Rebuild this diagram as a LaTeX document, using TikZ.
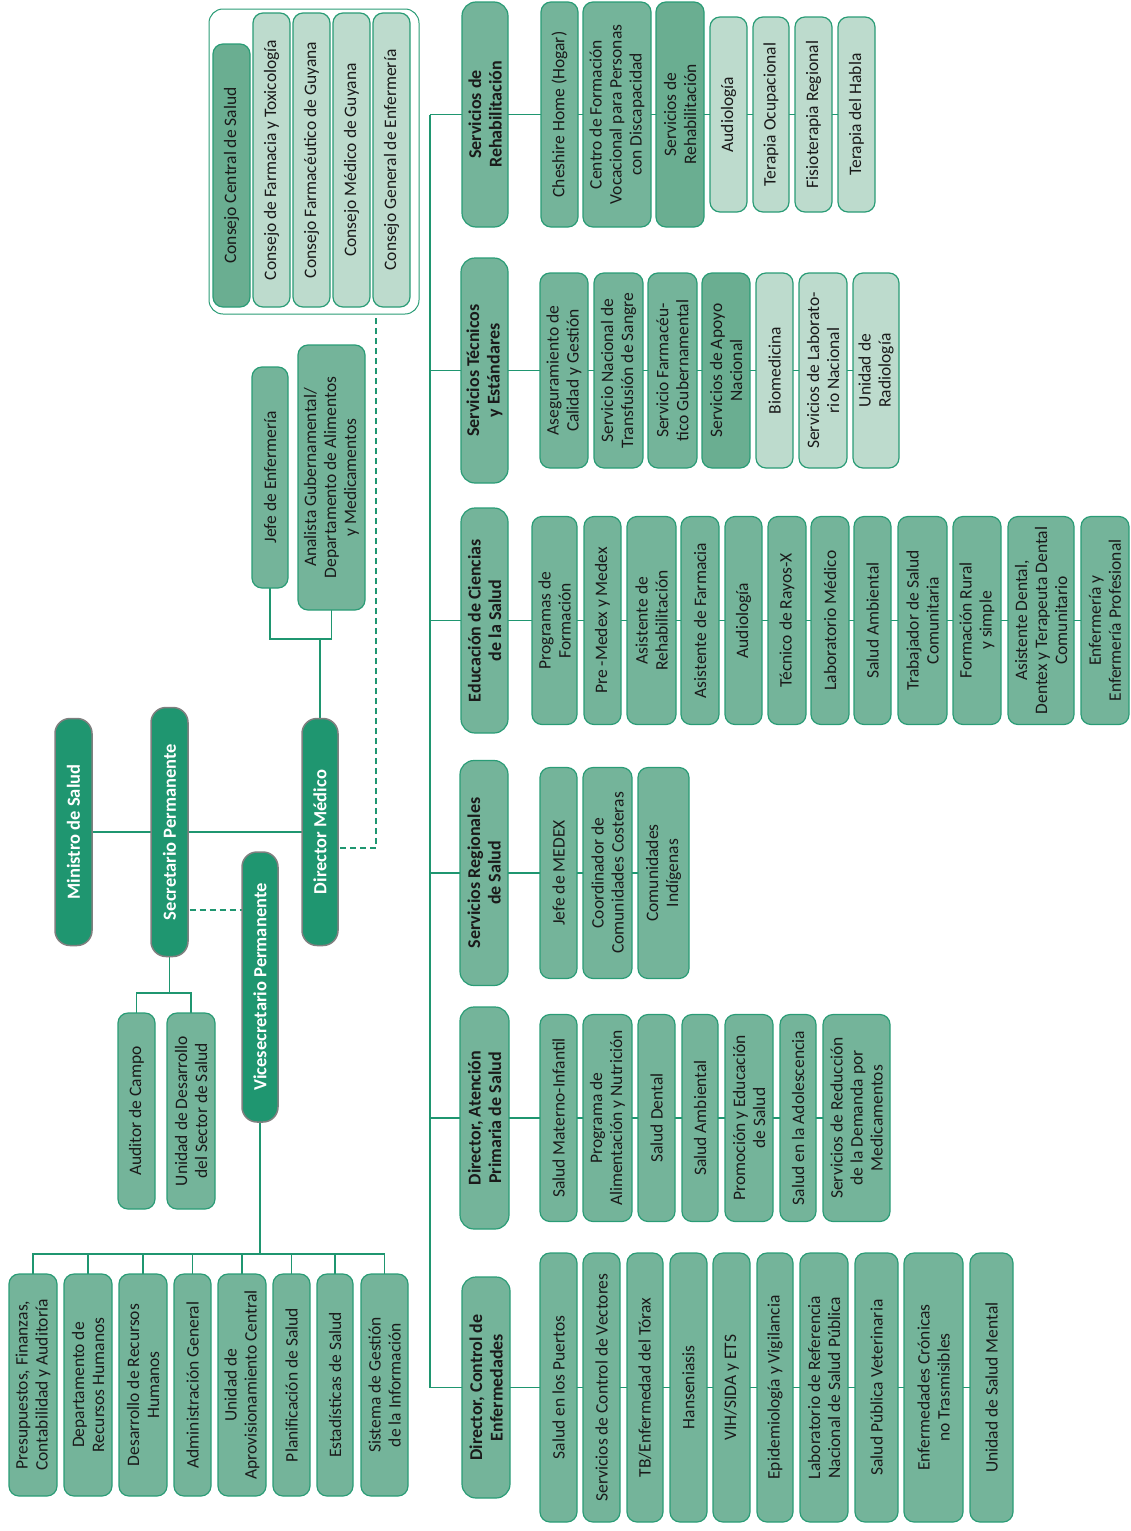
\documentclass[tikz,border=0pt]{standalone}
\usepackage{fontspec}
\setmainfont{Carlito}
\usepackage{tikz}
\usetikzlibrary{backgrounds}
\definecolor{topgreen}{HTML}{1F9670}
\definecolor{topgrey}{HTML}{7F7F7F}
\definecolor{midgreen}{HTML}{74B49A}
\definecolor{deepgreen}{HTML}{6AAE91}
\definecolor{palegreen}{HTML}{BDDBCD}
\definecolor{edgegreen}{HTML}{2A9C76}
\definecolor{linkgreen}{HTML}{1F9670}
\definecolor{inkgrey}{HTML}{1A1A1A}
\tikzset{
  orgbox/.style={rectangle, rotate=90, align=center, inner sep=1pt,
                 rounded corners=10pt, draw=edgegreen, line width=1.2pt,
                 fill=midgreen, text=inkgrey,
                 font=\fontsize{17.5}{20}\selectfont},
  topbox/.style={orgbox, rounded corners=15pt, draw=topgrey, line width=1.5pt,
                 fill=topgreen, text=white,
                 font=\fontsize{18.5}{21}\selectfont\bfseries},
  headbox/.style={orgbox, rounded corners=14pt,
                  font=\fontsize{18}{20.5}\selectfont\bfseries},
  deepunit/.style={orgbox, fill=deepgreen},
  paleunit/.style={orgbox, fill=palegreen},
  link/.style={draw=linkgreen, line width=1.8pt},
  dashlink/.style={link, dash pattern=on 6pt off 4pt},
  wh/.style 2 args={minimum height=#1pt, minimum width=#2pt},
}

\begin{document}
\begin{tikzpicture}[
    x=1pt,
    y=-1pt,
    frame/.style={rectangle, rounded corners=14pt, draw=edgegreen, line width=1pt, fill=white},
  ]
    \useasboundingbox (0,0) rectangle (1130,1531);

    % Top management (dark green)
    \node[topbox, wh={37}{227}] (min) at (73.5,832) {Ministro de Salud};
    \node[topbox, wh={37}{249}] (sec) at (169.5,832) {Secretario Permanente};
    \node[topbox, wh={36}{227}] (dir) at (320,832) {Director Médico};
    \node[topbox, wh={36}{270}] (vice) at (260,987) {Vicesecretario Permanente};

    % Units under the Permanent Secretary
    \node[orgbox, wh={37}{196}] (aud) at (136.5,1111) {Auditor de Campo};
    \node[orgbox, wh={48}{196}] (udes) at (191,1111) {Unidad de Desarrollo\\del Sector de Salud};

    % Units under the Deputy Permanent Secretary
    \node[orgbox, wh={48}{222}] (p1) at (33,1385) {Presupuestos, Finanzas,\\Contabilidad y Auditoría};
    \node[orgbox, wh={48}{222}] (p2) at (88,1385) {Departamento de\\Recursos Humanos};
    \node[orgbox, wh={48}{222}] (p3) at (143,1385) {Desarrollo de Recursos\\Humanos};
    \node[orgbox, wh={37}{222}] (p4) at (192.5,1385) {Administración General};
    \node[orgbox, wh={48}{222}] (p5) at (242,1385) {Unidad de\\Aprovisionamiento Central};
    \node[orgbox, wh={37}{222}] (p6) at (291.5,1385) {Planificación de Salud};
    \node[orgbox, wh={36}{222}] (p7) at (335,1385) {Estadísticas de Salud};
    \node[orgbox, wh={47}{222}] (p8) at (384.5,1385) {Sistema de Gestión\\de la Información};

    % Units above the Medical Director
    \node[orgbox, wh={36}{221}] (jefe) at (270,477.5) {Jefe de Enfermería};
    \node[orgbox, wh={67}{265}] (anal) at (331.5,477.5) {Analista Gubernamental/\\Departamento de Alimentos\\y Medicamentos};

    % Councils
    \node[frame, minimum width=210pt, minimum height=305pt] (cons) at (314,161.5) {};
    \node[deepunit, wh={37}{263}] (k1) at (231.5,175.5) {Consejo Central de Salud};
    \node[paleunit, wh={37}{294}] (k2) at (271.5,160) {Consejo de Farmacia y Toxicología};
    \node[paleunit, wh={37}{294}] (k3) at (311.5,160) {Consejo Farmacéutico de Guyana};
    \node[paleunit, wh={37}{294}] (k4) at (351.5,160) {Consejo Médico de Guyana};
    \node[paleunit, wh={37}{294}] (k5) at (391.5,160) {Consejo General de Enfermería};

    % Row 1: rehabilitation services
    \node[headbox, wh={46}{225}] (rehab) at (485,114.5) {Servicios de\\Rehabilitación};
    \node[orgbox, wh={37}{225}] (r1) at (559.5,114.5) {Cheshire Home (Hogar)};
    \node[orgbox, wh={68}{225}] (r2) at (617,114.5) {Centro de Formación\\Vocacional para Personas\\con Discapacidad};
    \node[deepunit, wh={48}{225}] (r3) at (680,114.5) {Servicios de\\Rehabilitación};
    \node[paleunit, wh={37}{195}] (r4) at (728.5,114.5) {Audiología};
    \node[paleunit, wh={36}{195}] (r5) at (771,114.5) {Terapia Ocupacional};
    \node[paleunit, wh={37}{195}] (r6) at (813.5,114.5) {Fisioterapia Regional};
    \node[paleunit, wh={37}{195}] (r7) at (856.5,114.5) {Terapia del Habla};

    % Row 2: technical services and standards
    \node[headbox, wh={47}{225}] (tec) at (484.5,370.5) {Servicios Técnicos\\y Estándares};
    \node[orgbox, wh={48}{195}] (t1) at (564,370.5) {Aseguramiento de\\Calidad y Gestión};
    \node[orgbox, wh={49}{195}] (t2) at (618.5,370.5) {Servicio Nacional de\\Transfusión de Sangre};
    \node[orgbox, wh={49}{195}] (t3) at (672.5,370.5) {Servicio Farmacéu-\\tico Gubernamental};
    \node[deepunit, wh={48}{195}] (t4) at (726,370.5) {Servicios de Apoyo\\Nacional};
    \node[paleunit, wh={37}{195}] (t5) at (774.5,370.5) {Biomedicina};
    \node[paleunit, wh={48}{195}] (t6) at (823,370.5) {Servicios de Laborato-\\rio Nacional};
    \node[paleunit, wh={46}{195}] (t7) at (876,370.5) {Unidad de\\Radiología};

    % Row 3: health sciences education
    \node[headbox, wh={47}{225}] (edu) at (484.5,620.5) {Educación de Ciencias\\de la Salud};
    \node[orgbox, wh={45}{208}] (e1) at (554.5,620.5) {Programas de\\Formación};
    \node[orgbox, wh={37}{208}] (e2) at (602.5,620.5) {Pre -Medex y Medex};
    \node[orgbox, wh={49}{208}] (e3) at (651.5,620.5) {Asistente de\\Rehabilitación};
    \node[orgbox, wh={38}{208}] (e4) at (700,620.5) {Asistente de Farmacia};
    \node[orgbox, wh={37}{208}] (e5) at (743.5,620.5) {Audiología};
    \node[orgbox, wh={38}{208}] (e6) at (787,620.5) {Técnico de Rayos-X};
    \node[orgbox, wh={38}{208}] (e7) at (830,620.5) {Laboratorio Médico};
    \node[orgbox, wh={37}{208}] (e8) at (872.5,620.5) {Salud Ambiental};
    \node[orgbox, wh={49}{208}] (e9) at (922.5,620.5) {Trabajador de Salud\\Comunitaria};
    \node[orgbox, wh={48}{208}] (e10) at (977,620.5) {Formación Rural\\y simple};
    \node[orgbox, wh={66}{208}] (e11) at (1041,620.5) {Asistente Dental,\\Dentex y Terapeuta Dental\\Comunitario};
    \node[orgbox, wh={48}{208}] (e12) at (1105,620.5) {Enfermería y\\Enfermería Profesional};

    % Row 4: regional health services
    \node[headbox, wh={48}{225}] (reg) at (484,873) {Servicios Regionales\\de Salud};
    \node[orgbox, wh={37}{211}] (g1) at (558.5,873) {Jefe de MEDEX};
    \node[orgbox, wh={49}{211}] (g2) at (607.5,873) {Coordinador de\\Comunidades Costeras};
    \node[orgbox, wh={51}{211}] (g3) at (663.5,873) {Comunidades\\Indígenas};

    % Row 5: primary health care
    \node[headbox, wh={49}{222}] (aps) at (484.5,1118) {Director, Atención\\Primaria de Salud};
    \node[orgbox, wh={37}{207}] (a1) at (558.5,1118) {Salud Materno-Infantil};
    \node[orgbox, wh={49}{207}] (a2) at (607.5,1118) {Programa de\\Alimentación y Nutrición};
    \node[orgbox, wh={37}{207}] (a3) at (656.5,1118) {Salud Dental};
    \node[orgbox, wh={36}{207}] (a4) at (700,1118) {Salud Ambiental};
    \node[orgbox, wh={48}{207}] (a5) at (749,1118) {Promoción y Educación\\de Salud};
    \node[orgbox, wh={36}{207}] (a6) at (798,1118) {Salud en la Adolescencia};
    \node[orgbox, wh={67}{207}] (a7) at (856.5,1118) {Servicios de Reducción\\de la Demanda por\\Medicamentos};

    % Row 6: disease control
    \node[headbox, wh={48}{221}] (ctrl) at (486,1387.5) {Director, Control de\\Enfermedades};
    \node[orgbox, wh={37}{269}] (c1) at (558.5,1387.5) {Salud en los Puertos};
    \node[orgbox, wh={37}{269}] (c2) at (601.5,1387.5) {Servicios de Control de Vectores};
    \node[orgbox, wh={36}{269}] (c3) at (645,1387.5) {TB/Enfermedad del Tórax};
    \node[orgbox, wh={37}{269}] (c4) at (688.5,1387.5) {Hanseniasis};
    \node[orgbox, wh={37}{269}] (c5) at (731.5,1387.5) {VIH/SIDA y ETS};
    \node[orgbox, wh={36}{269}] (c6) at (775,1387.5) {Epidemiología y Vigilancia};
    \node[orgbox, wh={48}{269}] (c7) at (824,1387.5) {Laboratorio de Referencia\\Nacional de Salud Pública};
    \node[orgbox, wh={43}{269}] (c8) at (876.5,1387.5) {Salud Pública Veterinaria};
    \node[orgbox, wh={59}{269}] (c9) at (933.5,1387.5) {Enfermedades Crónicas\\no Trasmisibles};
    \node[orgbox, wh={43}{269}] (c10) at (991.5,1387.5) {Unidad de Salud Mental};

    \coordinate (spine) at (430,0);
    \coordinate (busA) at (0,993);
    \coordinate (busB) at (0,1254);
    \coordinate (busC) at (0,639);

    \begin{scope}[on background layer]
      % Management line
      \draw[link] (min.center) -- (dir.center);
      \draw[dashlink] (sec.center |- 0,910) -- (vice.center |- 0,910);
      \draw[dashlink] (dir.center |- 0,848) -| ([xshift=62pt]cons.south);

      % Permanent Secretary branch
      \draw[link] (sec.center) -- (sec.center |- busA);
      \draw[link] (aud.center) |- (busA -| udes.center) -- (udes.center);

      % Deputy Permanent Secretary branch
      \draw[link] (vice.center) -- (vice.center |- busB);
      \draw[link] (p1.center) |- (busB -| p8.center) -- (p8.center);
      \foreach \u in {p2,p3,p4,p5,p6,p7}
        \draw[link] (\u.center) -- (\u.center |- busB);

      % Medical Director branch
      \draw[link] (dir.center) -- (dir.center |- busC);
      \draw[link] (jefe.center) |- (busC -| anal.center) -- (anal.center);

      % Service spine and rows
      \draw[link] (spine |- rehab.center) -- (spine |- ctrl.center);
      \foreach \h in {rehab,tec,edu,reg,aps,ctrl}
        \draw[link] (spine |- \h.center) -- (\h.center);
      \draw[link] (rehab.center) -- (r7.center);
      \draw[link] (tec.center) -- (t7.center);
      \draw[link] (edu.center) -- (e12.center);
      \draw[link] (reg.center) -- (g3.center);
      \draw[link] (aps.center) -- (a7.center);
      \draw[link] (ctrl.center) -- (c10.center);
    \end{scope}
  \end{tikzpicture}
\end{document}
